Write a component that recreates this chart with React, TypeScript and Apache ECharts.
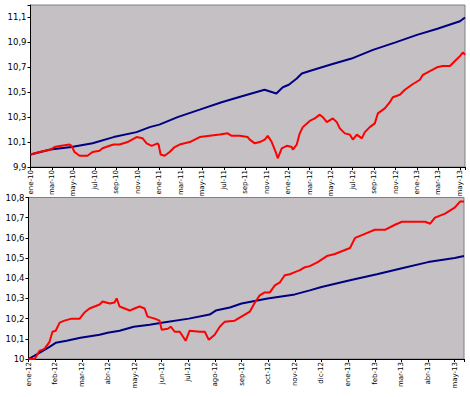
import React, { useEffect, useRef } from 'react';
import * as echarts from 'echarts';

// Tick labels
const topTickLabels = ['ene-10','mar-10','may-10','jul-10','sep-10','nov-10','ene-11','mar-11','may-11','jul-11','sep-11','nov-11','ene-12','mar-12','may-12','jul-12','sep-12','nov-12','ene-13','mar-13','may-13'];
const bottomTickLabels = ['ene-12','feb-12','mar-12','abr-12','may-12','jun-12','jul-12','ago-12','sep-12','oct-12','nov-12','dic-12','ene-13','feb-13','mar-13','abr-13','may-13'];

// Top chart (months since ene-10)
const topBlueMonths = [0, 1.86, 3.82, 5.78, 7.74, 9.88, 11.1, 12, 13.7, 15.76, 17.8, 19.77, 21.8, 22.9, 23.5, 24.06, 24.8, 25.27, 26.0, 27.9, 29.9, 31.9, 34.0, 36.0, 37.9, 40.0, 40.47];
const topBlueValues = [10.0, 10.04, 10.06, 10.09, 10.14, 10.18, 10.22, 10.24, 10.30, 10.36, 10.42, 10.47, 10.52, 10.49, 10.54, 10.56, 10.61, 10.65, 10.67, 10.72, 10.77, 10.84, 10.90, 10.96, 11.01, 11.07, 11.10];

const topRedMonths = [0, 0.84, 1.86, 2.24, 2.89, 3.64, 3.82, 4.1, 4.57, 5.31, 5.78, 6.43, 6.71, 7.37, 7.74, 8.3, 9.04, 9.88, 10.44, 10.82, 11.28, 11.84, 11.93, 12.12, 12.49, 12.96, 13.43, 13.89, 14.83, 15.76, 16.69, 17.62, 18.37, 18.74, 19.49, 20.23, 20.42, 20.89, 21.35, 21.82, 22.1, 22.47, 22.84, 23.03, 23.4, 23.87, 24.34, 24.43, 24.8, 25.08, 25.36, 26.01, 26.48, 26.95, 27.23, 27.6, 28.16, 28.53, 28.81, 29.28, 29.74, 30.02, 30.4, 30.86, 31.14, 31.6, 32.07, 32.35, 33.0, 33.47, 33.75, 34.4, 34.87, 35.52, 36.27, 36.55, 37.2, 37.86, 38.4, 39.07, 39.53, 40.0, 40.28, 40.47];
const topRedValues = [10.0, 10.02, 10.04, 10.06, 10.07, 10.08, 10.07, 10.02, 9.99, 9.99, 10.02, 10.03, 10.05, 10.07, 10.08, 10.08, 10.10, 10.14, 10.13, 10.09, 10.07, 10.09, 10.08, 10.0, 9.99, 10.02, 10.06, 10.08, 10.10, 10.14, 10.15, 10.16, 10.17, 10.15, 10.15, 10.14, 10.12, 10.09, 10.10, 10.12, 10.15, 10.10, 10.02, 9.97, 10.05, 10.07, 10.06, 10.04, 10.08, 10.17, 10.22, 10.27, 10.29, 10.32, 10.30, 10.26, 10.29, 10.26, 10.21, 10.17, 10.16, 10.12, 10.16, 10.13, 10.18, 10.22, 10.25, 10.33, 10.37, 10.42, 10.46, 10.48, 10.52, 10.56, 10.60, 10.64, 10.67, 10.70, 10.71, 10.71, 10.75, 10.79, 10.82, 10.80];

// Bottom chart (months since ene-12)
const bottomBlueMonths = [0, 0.41, 0.79, 1.02, 1.43, 1.95, 2.67, 2.97, 3.42, 3.95, 4.55, 5.0, 6.02, 6.8, 7.03, 7.56, 8.0, 8.98, 10.0, 10.56, 11.0, 12.07, 13.08, 14.02, 15.0, 16.0, 16.35];
const bottomBlueValues = [10.0, 10.03, 10.06, 10.08, 10.09, 10.105, 10.12, 10.13, 10.14, 10.16, 10.17, 10.18, 10.20, 10.22, 10.24, 10.255, 10.275, 10.30, 10.32, 10.34, 10.357, 10.39, 10.42, 10.45, 10.48, 10.50, 10.51];

const bottomRedMonths = [0, 0.23, 0.41, 0.6, 0.79, 0.9, 1.02, 1.17, 1.35, 1.62, 1.92, 2.1, 2.29, 2.48, 2.67, 2.78, 3.05, 3.23, 3.31, 3.42, 3.61, 3.8, 3.98, 4.17, 4.36, 4.47, 4.74, 4.92, 5.0, 5.23, 5.34, 5.49, 5.68, 5.9, 6.05, 6.43, 6.62, 6.77, 6.99, 7.18, 7.37, 7.74, 8.12, 8.31, 8.5, 8.68, 8.87, 9.06, 9.25, 9.44, 9.62, 9.81, 10.0, 10.19, 10.38, 10.56, 10.86, 11.2, 11.5, 11.88, 12.07, 12.26, 12.63, 13.0, 13.38, 13.76, 14.02, 14.51, 14.89, 15.08, 15.26, 15.64, 16.0, 16.2, 16.35];
const bottomRedValues = [10.0, 10.0, 10.04, 10.05, 10.085, 10.135, 10.14, 10.18, 10.19, 10.20, 10.20, 10.23, 10.25, 10.26, 10.27, 10.285, 10.275, 10.28, 10.30, 10.26, 10.25, 10.24, 10.25, 10.26, 10.25, 10.21, 10.20, 10.19, 10.145, 10.15, 10.16, 10.135, 10.135, 10.09, 10.14, 10.135, 10.135, 10.095, 10.12, 10.16, 10.185, 10.19, 10.22, 10.235, 10.28, 10.315, 10.33, 10.33, 10.365, 10.38, 10.415, 10.42, 10.43, 10.44, 10.455, 10.46, 10.48, 10.51, 10.52, 10.54, 10.55, 10.60, 10.62, 10.64, 10.64, 10.665, 10.68, 10.68, 10.68, 10.67, 10.70, 10.72, 10.75, 10.78, 10.78];

const zip = (xs: number[], ys: number[]) => xs.map((x, i) => [x, ys[i]]);
const fmtNum = (v: number) => String(parseFloat(v.toFixed(1))).replace('.', ',');
const FONT = 'DejaVu Sans';
const BLUE = '#000080';
const RED = '#ff0000';

function makeXAxis(gridIndex: number, max: number, interval: number, labels: string[]) {
  return {
    gridIndex,
    type: 'value',
    min: 0,
    max,
    interval,
    axisLine: { show: true, onZero: false, lineStyle: { color: '#000', width: 1 } },
    axisTick: { show: true, length: 3, lineStyle: { color: '#000' } },
    splitLine: { show: false },
    axisLabel: {
      rotate: 90,
      margin: 3,
      fontSize: 7,
      fontFamily: FONT,
      color: '#000',
      formatter: (v: number) => {
        const i = Math.round(v / interval);
        if (Math.abs(v - i * interval) > 1e-6) return '';
        return labels[i] ?? '';
      },
    },
  };
}

function makeYAxis(gridIndex: number, min: number, max: number, interval: number, lastLabel: number) {
  return {
    gridIndex,
    type: 'value',
    min,
    max,
    interval,
    axisLine: { show: true, onZero: false, lineStyle: { color: '#000', width: 1 } },
    axisTick: { show: true, length: 3, lineStyle: { color: '#000' } },
    splitLine: { show: false },
    axisLabel: {
      margin: 4,
      fontSize: 8.5,
      fontFamily: FONT,
      color: '#000',
      formatter: (v: number) => (v > lastLabel + 1e-6 ? '' : fmtNum(v)),
    },
  };
}

export default function App() {
  const ref = useRef<HTMLDivElement>(null);
  useEffect(() => {
    if (!ref.current) return;
    const chart = echarts.init(ref.current, undefined, { renderer: 'svg' });
    const gridStyle = {
      show: true,
      backgroundColor: '#c4c0c4',
      borderColor: '#808080',
      borderWidth: 1,
      containLabel: false,
    };
    chart.setOption({
      animation: false,
      backgroundColor: '#ffffff',
      grid: [
        { ...gridStyle, left: 30.5, top: 5, width: 434.5, height: 162 },
        { ...gridStyle, left: 28.5, top: 197.5, width: 435.5, height: 161.5 },
      ],
      xAxis: [
        makeXAxis(0, 40.47, 2, topTickLabels),
        makeXAxis(1, 16.35, 1, bottomTickLabels),
      ],
      yAxis: [
        makeYAxis(0, 9.9, 11.2, 0.2, 11.1),
        makeYAxis(1, 10, 10.8, 0.1, 10.8),
      ],
      series: [
        { type: 'line', xAxisIndex: 0, yAxisIndex: 0, data: zip(topBlueMonths, topBlueValues), showSymbol: false, symbol: 'none', lineStyle: { color: BLUE, width: 2 } },
        { type: 'line', xAxisIndex: 0, yAxisIndex: 0, data: zip(topRedMonths, topRedValues), showSymbol: false, symbol: 'none', lineStyle: { color: RED, width: 2 } },
        { type: 'line', xAxisIndex: 1, yAxisIndex: 1, data: zip(bottomBlueMonths, bottomBlueValues), showSymbol: false, symbol: 'none', lineStyle: { color: BLUE, width: 2 } },
        { type: 'line', xAxisIndex: 1, yAxisIndex: 1, data: zip(bottomRedMonths, bottomRedValues), showSymbol: false, symbol: 'none', lineStyle: { color: RED, width: 2 } },
      ],
    });
    return () => chart.dispose();
  }, []);
  return (
    <div
      ref={ref}
      style={{ position: 'fixed', left: 0, top: 0, width: 470, height: 397, background: '#fff' }}
    />
  );
}
